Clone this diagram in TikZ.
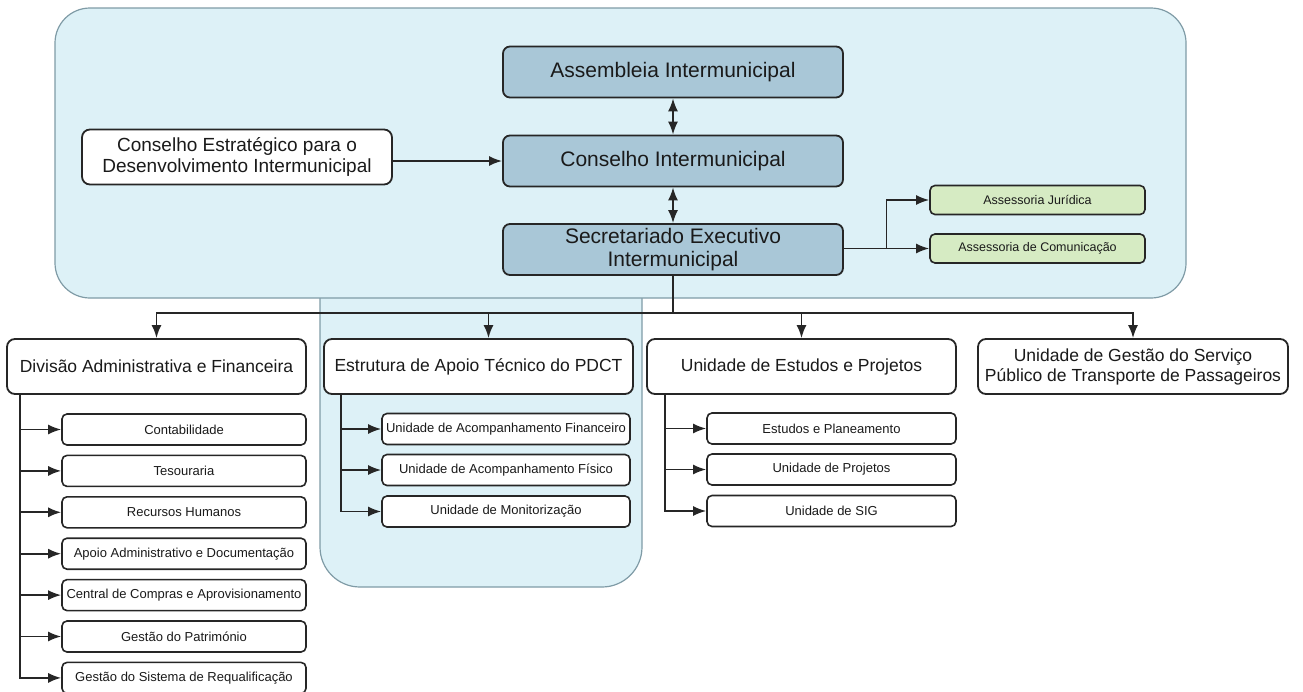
\documentclass[tikz,border=0pt]{standalone}
\usepackage{fontspec}
\setmainfont{Liberation Sans}
\usepackage{tikz}
\usetikzlibrary{arrows.meta}
\usetikzlibrary{calc}

\definecolor{panelfill}{HTML}{DDF1F7}
\definecolor{panelline}{HTML}{7F9BA6}
\definecolor{headfill}{HTML}{A9C7D7}
\definecolor{advfill}{HTML}{D6EBC3}
\definecolor{boxline}{HTML}{262626}
\definecolor{textcol}{HTML}{1A1A1A}

\begin{document}
\begin{tikzpicture}[x=1pt,y=-1pt,>={Latex[length=13pt,width=10pt]},
	headbox/.style={draw=boxline,line width=1.8pt,rounded corners=7pt,fill=headfill,minimum width=340pt,minimum height=51pt,inner sep=0pt,align=center,text=textcol,font=\fontsize{21}{23}\selectfont},
	unitbox/.style={draw=boxline,line width=1.8pt,rounded corners=8pt,fill=white,minimum height=55pt,inner sep=0pt,align=center,text=textcol,font=\fontsize{17.5}{20}\selectfont},
	subbox/.style={draw=boxline,line width=1.6pt,rounded corners=5pt,fill=white,minimum height=31pt,inner sep=0pt,text=textcol,font=\fontsize{13}{15}\selectfont},
	advbox/.style={subbox,fill=advfill,minimum width=215pt,minimum height=29pt,font=\fontsize{12.5}{14}\selectfont},
	link/.style={line width=1.8pt,draw=boxline}]
	\useasboundingbox (0,0) rectangle (1303,691);

	% light blue panels
	\path[fill=panelfill,draw=panelline,line width=1.2pt,rounded corners=40pt] (320,270) -- (320,587) -- (642,587) -- (642,270);
	\draw[fill=panelfill,draw=panelline,line width=1.2pt,rounded corners=35pt] (55,8) rectangle (1186,298);

	\draw (673,72) node (asm) [headbox] {Assembleia Intermunicipal};
	\draw (673,161) node (cim) [headbox] {Conselho Intermunicipal};
	\draw (673,249.5) node (sec) [headbox] {Secretariado Executivo\\Intermunicipal};
	\draw (237,157) node (est) [unitbox,minimum width=310pt,fill=white,font=\fontsize{19}{21}\selectfont] {Conselho Estratégico para o\\Desenvolvimento Intermunicipal};

	\draw (1037.5,200) node (jur) [advbox] {Assessoria Jurídica};
	\draw (1037.5,248.5) node (com) [advbox] {Assessoria de Comunicação};

	\draw[<->,link] (asm) -- (cim);
	\draw[<->,link] (cim) -- (sec);
	\draw[->,link] (est.east |- cim) -- (cim.west);
	\draw[->,link] (sec.east |- com) -- (com.west);
	\draw[->,link] ($(sec.east |- com)!0.5!(com.west)$) |- (jur.west);

	\draw (156.5,366.5) node (div) [unitbox,minimum width=299pt] {Divisão Administrativa e Financeira};
	\draw (478.5,366.5) node (apt) [unitbox,minimum width=309pt] {Estrutura de Apoio Técnico do PDCT};
	\draw (801.5,366.5) node (ues) [unitbox,minimum width=309pt] {Unidade de Estudos e Projetos};
	\draw (1133,366.5) node (ugs) [unitbox,minimum width=310pt] {Unidade de Gestão do Serviço\\Público de Transporte de Passageiros};

	\coordinate (bus) at (672,313);
	\draw[->,link] (sec.south) |- (div.north |- bus) -- (div.north);
	\draw[->,link] (sec.south) |- ($(apt.north |- bus)+(10,0)$) -- ($(apt.north)+(10,0)$);
	\draw[->,link] (sec.south) |- (ues.north |- bus) -- (ues.north);
	\draw[->,link] (sec.south) |- (ugs.north |- bus) -- (ugs.north);

	\draw (184,429.5) node (dv1) [subbox,minimum width=244pt] {Contabilidade};
	\draw (184,470.9) node (dv2) [subbox,minimum width=244pt] {Tesouraria};
	\draw (184,512.3) node (dv3) [subbox,minimum width=244pt] {Recursos Humanos};
	\draw (184,553.7) node (dv4) [subbox,minimum width=244pt] {Apoio Administrativo e Documentação};
	\draw (184,595.1) node (dv5) [subbox,minimum width=244pt] {Central de Compras e Aprovisionamento};
	\draw (184,636.5) node (dv6) [subbox,minimum width=244pt] {Gestão do Património};
	\draw (184,677.9) node (dv7) [subbox,minimum width=244pt] {Gestão do Sistema de Requalificação};

	\draw[->,link] ($(div.south west)+(14,0)$) |- (dv1.west);
	\draw[->,link] ($(div.south west)+(14,0)$) |- (dv2.west);
	\draw[->,link] ($(div.south west)+(14,0)$) |- (dv3.west);
	\draw[->,link] ($(div.south west)+(14,0)$) |- (dv4.west);
	\draw[->,link] ($(div.south west)+(14,0)$) |- (dv5.west);
	\draw[->,link] ($(div.south west)+(14,0)$) |- (dv6.west);
	\draw[->,link] ($(div.south west)+(14,0)$) |- (dv7.west);

	\draw (506,429) node (ap1) [subbox,minimum width=248pt] {Unidade de Acompanhamento Financeiro};
	\draw (506,470) node (ap2) [subbox,minimum width=248pt] {Unidade de Acompanhamento Físico};
	\draw (506,511.5) node (ap3) [subbox,minimum width=248pt] {Unidade de Monitorização};

	\draw[->,link] ($(apt.south west)+(18,0)$) |- (ap1.west);
	\draw[->,link] ($(apt.south west)+(18,0)$) |- (ap2.west);
	\draw[->,link] ($(apt.south west)+(18,0)$) |- (ap3.west);

	\draw (831.5,428.5) node (ue1) [subbox,minimum width=249pt] {Estudos e Planeamento};
	\draw (831.5,469.5) node (ue2) [subbox,minimum width=249pt] {Unidade de Projetos};
	\draw (831.5,511) node (ue3) [subbox,minimum width=249pt] {Unidade de SIG};

	\draw[->,link] ($(ues.south west)+(19,0)$) |- (ue1.west);
	\draw[->,link] ($(ues.south west)+(19,0)$) |- (ue2.west);
	\draw[->,link] ($(ues.south west)+(19,0)$) |- (ue3.west);
\end{tikzpicture}
\end{document}
